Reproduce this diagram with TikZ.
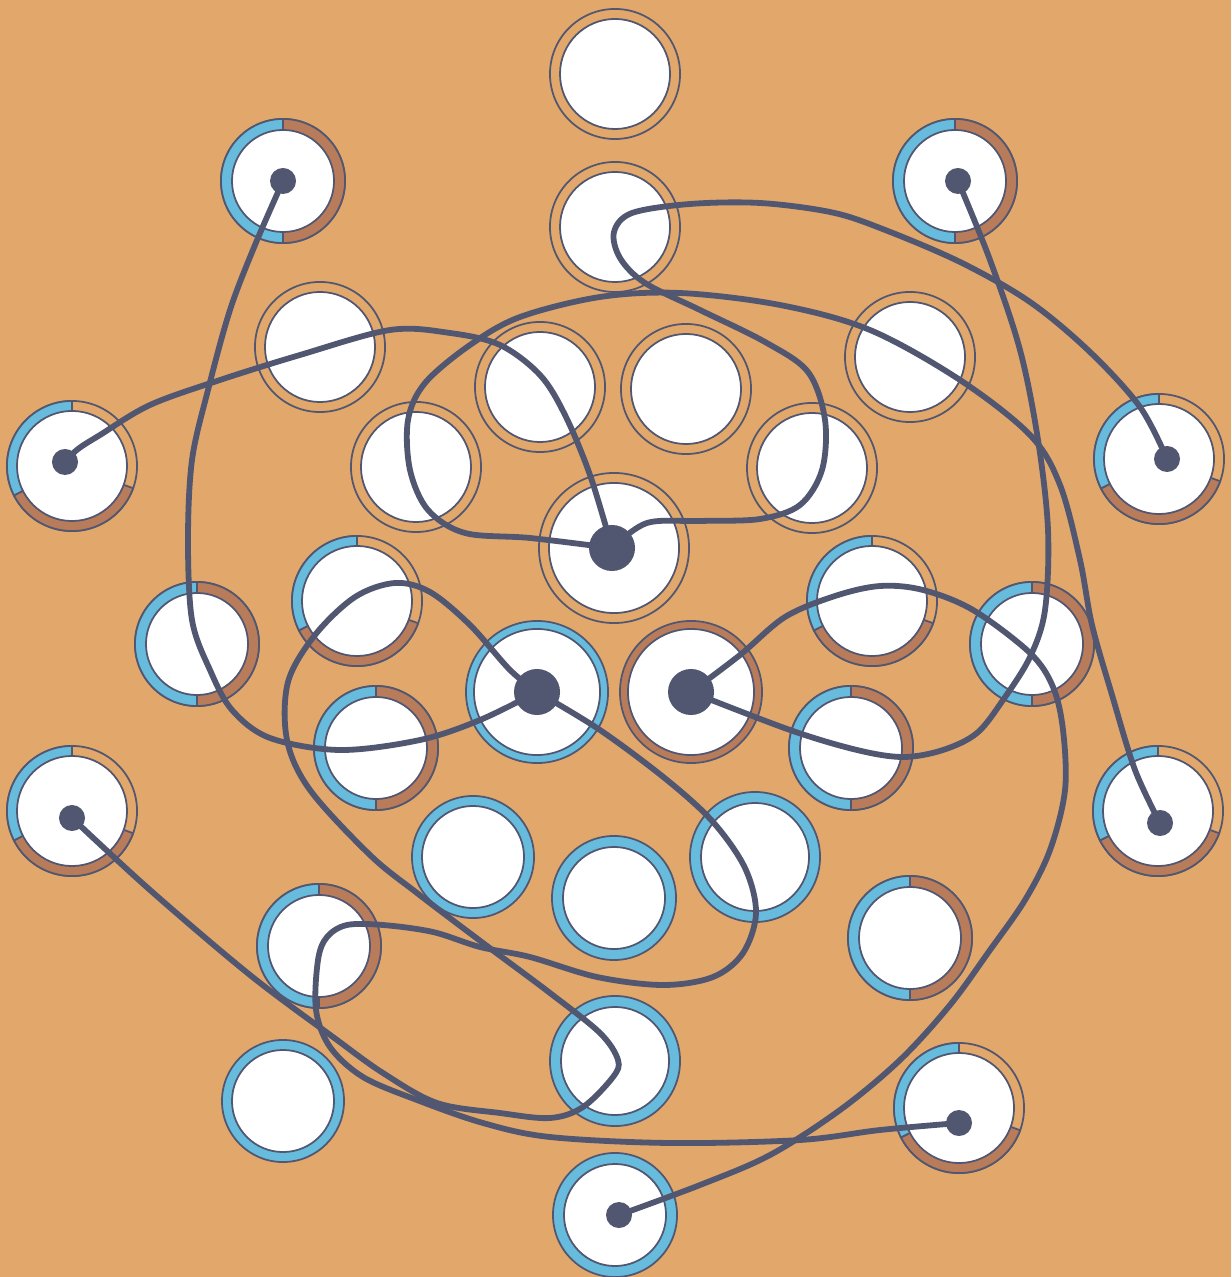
\documentclass[tikz,border=0pt]{standalone}
\usepackage{xcolor}
\usepackage{tikz}
\usetikzlibrary{calc}
\definecolor{sand}{HTML}{E2A76B}
\definecolor{sky}{HTML}{67BBDD}
\definecolor{clay}{HTML}{B97C5B}
\definecolor{ink}{HTML}{525771}

% dial with a plain (single colour) collar
\newcommand{\plaindial}[5]{%
  \node[collar=#4, fill=#3] at (#2) {};
  \node[plate=#5] (#1) at (#2) {};
}
% dial with a collar half blue, half clay
\newcommand{\halfdial}[2]{%
  \node[collar=1.24cm] at (#2) {};
  \filldraw[seg, fill=sky] (#2) -- ++(90:0.62cm) arc[start angle=90, end angle=270, radius=0.62cm] -- cycle;
  \filldraw[seg, fill=clay] (#2) -- ++(90:0.62cm) arc[start angle=90, end angle=-90, radius=0.62cm] -- cycle;
  \node[plate=1.02cm] (#1) at (#2) {};
}
% dial with a collar in three parts
\newcommand{\thirddial}[2]{%
  \node[collar=1.30cm] at (#2) {};
  \filldraw[seg, fill=sky] (#2) -- ++(90:0.65cm) arc[start angle=90, end angle=207, radius=0.65cm] -- cycle;
  \filldraw[seg, fill=clay] (#2) -- ++(207:0.65cm) arc[start angle=207, end angle=340, radius=0.65cm] -- cycle;
  \node[plate=1.10cm] (#1) at (#2) {};
}

\begin{document}
\begin{tikzpicture}[
  x=0.01cm,
  y=0.01cm,
  wire/.style={
    draw=ink,
    line width=1.65pt,
    line cap=round
  },
  seg/.style={
    draw=ink,
    line width=0.5pt
  },
  collar/.style={
    circle,
    draw=ink,
    fill=sand,
    line width=0.5pt,
    inner sep=0pt,
    minimum size=#1
  },
  plate/.style={
    circle,
    draw=ink,
    fill=white,
    line width=0.5pt,
    inner sep=0pt,
    minimum size=#1
  },
  hub/.style={
    circle,
    fill=ink,
    inner sep=0pt,
    minimum size=#1
  }
]

\fill[sand] (0,0) rectangle (1231,-1277);
\useasboundingbox (0,0) rectangle (1231,-1277);

% Plain dials
\plaindial{d1}{615,-74}{sand}{1.30cm}{1.10cm}
\plaindial{d2}{615,-227}{sand}{1.30cm}{1.10cm}
\plaindial{d5}{320,-347}{sand}{1.30cm}{1.10cm}
\plaindial{d6}{910,-357}{sand}{1.30cm}{1.10cm}
\plaindial{d9a}{540,-387}{sand}{1.30cm}{1.10cm}
\plaindial{d9b}{686,-389}{sand}{1.30cm}{1.10cm}
\plaindial{d9c}{416,-467}{sand}{1.30cm}{1.10cm}
\plaindial{d9d}{812,-468}{sand}{1.30cm}{1.10cm}
\plaindial{d10}{614,-548}{sand}{1.50cm}{1.30cm}

% Full coloured dials
\plaindial{d15}{537,-692}{sky}{1.42cm}{1.26cm}
\plaindial{d16}{691,-692}{clay}{1.42cm}{1.26cm}
\plaindial{d21}{473,-857}{sky}{1.22cm}{1.02cm}
\plaindial{d22}{614,-898}{sky}{1.24cm}{1.02cm}
\plaindial{d23}{755,-857}{sky}{1.30cm}{1.08cm}
\plaindial{d26}{283,-1101}{sky}{1.22cm}{1.02cm}
\plaindial{d27}{615,-1061}{sky}{1.30cm}{1.08cm}
\plaindial{d29}{615,-1215}{sky}{1.24cm}{1.02cm}

% Half dials
\halfdial{d3}{283,-181}
\halfdial{d4}{955,-181}
\halfdial{d13}{197,-644}
\halfdial{d14}{1032,-644}
\halfdial{d17}{376,-748}
\halfdial{d18}{851,-748}
\halfdial{d24}{319,-946}
\halfdial{d25}{910,-938}

% Third dials
\thirddial{d7}{72,-466}
\thirddial{d8}{1159,-459}
\thirddial{d11}{357,-601}
\thirddial{d12}{872,-601}
\thirddial{d19}{72,-811}
\thirddial{d20}{1158,-811}
\thirddial{d28}{959,-1108}

% Hubs
\node[hub=0.46cm] (q0) at (612,-548) {};
\node[hub=0.46cm] (q1) at (537,-692) {};
\node[hub=0.46cm] (q2) at (691,-692) {};
\node[hub=0.26cm] (p1) at (283,-181) {};
\node[hub=0.26cm] (p2) at (958,-181) {};
\node[hub=0.26cm] (p3) at (65,-462) {};
\node[hub=0.26cm] (p4) at (1167,-459) {};
\node[hub=0.26cm] (p5) at (72,-818) {};
\node[hub=0.26cm] (p6) at (1160,-823) {};
\node[hub=0.26cm] (p7) at (959,-1123) {};
\node[hub=0.26cm] (p8) at (619,-1215) {};

% Wires to the centre hub
\draw[wire] plot[smooth, tension=0.55] coordinates {(p3) (78,-449) (100,-435) (150,-405) (220,-380) (300,-355) (390,-330) (450,-333) (500,-345) (540,-375) (565,-415) (590,-475) (q0)};
\draw[wire] plot[smooth, tension=0.55] coordinates {(q0) (530,-538) (465,-533) (428,-510) (410,-470) (408,-420) (425,-383) (470,-345) (520,-317) (600,-297) (680,-293) (780,-305) (870,-330) (960,-380) (1030,-435) (1060,-485) (1080,-560) (1092,-625) (1112,-695) (1135,-770) (p6)};
\draw[wire] plot[smooth, tension=0.55] coordinates {(q0) (647,-523) (700,-521) (760,-519) (800,-505) (822,-470) (825,-420) (808,-372) (765,-342) (700,-310) (645,-283) (620,-258) (614,-232) (632,-213) (690,-204) (760,-203) (830,-212) (880,-228) (960,-262) (1030,-302) (1090,-352) (1140,-407) (p4)};

% Wires to the blue hub
\draw[wire] plot[smooth, tension=0.55] coordinates {(p1) (255,-245) (230,-310) (208,-390) (192,-460) (188,-540) (192,-620) (210,-670) (232,-710) (270,-738) (340,-750) (420,-740) (480,-720) (q1)};
\draw[wire] plot[smooth, tension=0.55] coordinates {(q1) (510,-670) (470,-625) (430,-592) (395,-583) (355,-597) (315,-635) (288,-682) (287,-740) (310,-790) (370,-855) (417,-893) (483,-943) (550,-993) (600,-1033) (618,-1060) (613,-1077) (583,-1107) (550,-1118) (500,-1113) (437,-1103) (383,-1073) (333,-1037) (250,-975) (150,-890) (p5)};
\draw[wire] plot[smooth, tension=0.55] coordinates {(q1) (600,-730) (667,-780) (713,-822) (745,-868) (756,-913) (743,-953) (713,-977) (663,-985) (597,-977) (530,-957) (480,-947) (433,-932) (383,-925) (347,-925) (327,-937) (318,-960) (316,-1010) (330,-1047) (363,-1077) (417,-1100) (483,-1123) (550,-1137) (670,-1143) (800,-1140) (880,-1130) (p7)};

% Wires to the clay hub
\draw[wire] plot[smooth, tension=0.55] coordinates {(p2) (990,-260) (1020,-350) (1038,-440) (1048,-530) (1045,-610) (1030,-657) (1003,-700) (977,-733) (943,-750) (903,-757) (857,-750) (790,-730) (q2)};
\draw[wire] plot[smooth, tension=0.55] coordinates {(q2) (740,-655) (785,-617) (835,-596) (880,-586) (923,-590) (973,-610) (1030,-653) (1053,-687) (1063,-730) (1065,-790) (1050,-850) (1025,-900) (990,-950) (950,-1005) (900,-1060) (840,-1110) (770,-1155) (700,-1185) (p8)};

\end{tikzpicture}
\end{document}
